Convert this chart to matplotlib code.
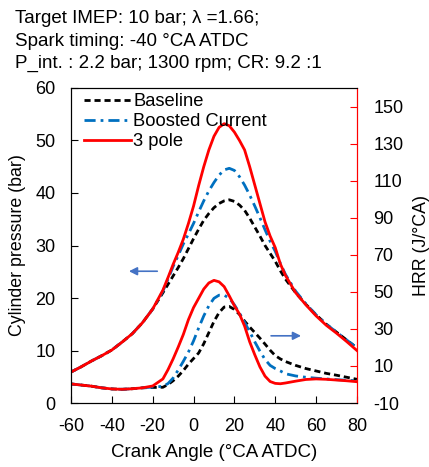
import numpy as np
import matplotlib.pyplot as plt

plt.rcParams['font.family'] = ['Liberation Sans', 'DejaVu Sans']
plt.rcParams['axes.unicode_minus'] = False

# crank angle grid (deg ATDC)
ca = [-60, -55, -50, -45, -40, -35, -30, -25, -20, -15, -12.5, -10, -7.5, -5, -2.5,
      0, 2.5, 5, 7.5, 10, 12.5, 15, 17.5, 20, 22.5, 25, 27.5, 30, 32.5, 35, 37.5,
      40, 42.5, 45, 50, 55, 60, 65, 70, 75, 80]

# cylinder pressure (bar)
p_base = [5.9, 6.9, 8.0, 9.0, 10.1, 11.6, 13.2, 15.3, 17.9, 21.0, 22.6, 24.2, 25.8, 27.5, 29.4,
          31.3, 33.1, 34.8, 36.1, 37.2, 38.0, 38.5, 38.7, 38.4, 37.7, 36.7, 35.2, 33.5, 31.8, 30.0, 28.5,
          27.0, 25.2, 23.6, 21.0, 18.8, 16.8, 15.0, 13.5, 12.0, 10.5]
p_boost = [5.9, 6.9, 8.0, 9.0, 10.1, 11.6, 13.2, 15.3, 17.9, 21.3, 23.6, 26.0, 28.1, 30.3, 32.2,
           34.2, 36.4, 38.5, 40.4, 42.0, 43.4, 44.4, 44.7, 44.3, 43.1, 41.5, 39.6, 37.5, 35.3, 33.0, 30.8,
           28.9, 26.6, 24.5, 21.3, 18.9, 16.8, 15.0, 13.5, 12.0, 10.5]
p_3pole = [5.9, 6.9, 8.0, 9.0, 10.1, 11.6, 13.2, 15.3, 17.9, 21.5, 23.9, 26.4, 28.7, 31.2, 34.2,
           37.5, 41.4, 45.0, 48.2, 50.8, 52.5, 53.2, 52.8, 51.6, 50.0, 48.2, 45.0, 41.5, 38.0, 34.5, 31.8,
           29.6, 26.5, 24.3, 21.0, 18.7, 16.6, 14.8, 13.3, 11.7, 10.0]

# heat release rate (J/°CA)
h_base = [0.3, -0.3, -0.9, -1.8, -2.4, -2.6, -2.3, -1.8, -1.6, -1.5, 0.0, 2.0, 4.5, 7.5, 11.0,
          14.0, 17.0, 22.0, 28.0, 34.0, 38.8, 41.8, 42.1, 40.5, 37.8, 34.2, 31.0, 28.0, 25.0, 21.8, 18.5,
          15.6, 13.8, 12.4, 10.3, 8.6, 7.3, 6.0, 5.0, 3.9, 2.8]
h_boost = [0.3, -0.3, -0.9, -1.8, -2.4, -2.6, -2.3, -1.8, -1.4, -1.0, 0.5, 3.5, 7.8, 12.5, 17.5,
           23.5, 30.5, 37.0, 42.5, 46.5, 48.2, 48.2, 46.5, 43.0, 38.5, 33.5, 28.5, 23.0, 18.0, 13.5, 10.3,
           8.6, 7.3, 5.8, 4.6, 3.9, 3.4, 3.0, 2.6, 2.3, 2.0]
h_3pole = [0.3, -0.3, -0.9, -1.8, -2.4, -2.6, -2.3, -1.8, -0.8, 3.0, 8.0, 13.8, 20.2, 27.0, 35.0,
           41.5, 46.5, 51.5, 54.8, 56.2, 55.4, 52.8, 47.8, 42.5, 38.0, 31.5, 23.0, 16.0, 9.5, 4.5, 1.6,
           0.6, 0.4, 0.8, 1.8, 2.7, 3.0, 2.8, 2.4, 2.0, 1.5]

labels = ['Baseline', 'Boosted Current', '3 pole']
colors = ['black', '#0070C0', '#FF0000']
styles = [(0, (2.2, 1.4)), (0, (4, 1.8, 1, 1.8)), '-']

fig = plt.figure(figsize=(4.29, 4.67), dpi=100)
ax = fig.add_axes([0.1655, 0.137, 0.6665, 0.6746])
ax2 = ax.twinx()

for p, lab, c, ls in zip([p_base, p_boost, p_3pole], labels, colors, styles):
    ax.plot(ca, p, color=c, ls=ls, lw=2, label=lab)
for h, c, ls in zip([h_base, h_boost, h_3pole], colors, styles):
    ax2.plot(ca, h, color=c, ls=ls, lw=2)

ax.set_xlim(-60, 80)
ax.set_ylim(0, 60)
ax.set_xticks(np.arange(-60, 81, 20))
ax.set_yticks(np.arange(0, 61, 10))
ax2.set_ylim(-10, 160)
ax2.set_yticks(np.arange(-10, 151, 20))

ax.tick_params(direction='in', length=5, labelsize=13, pad=11)
ax2.tick_params(direction='in', length=5, labelsize=13, color='red', pad=12)
ax2.spines['right'].set_color('red')
ax.spines['right'].set_color('red')

ax.set_xlabel('Crank Angle (°CA ATDC)', fontsize=13.5, labelpad=6)
ax.set_ylabel('Cylinder pressure (bar)', fontsize=12.8, labelpad=7)
ax2.set_ylabel('HRR (J/°CA)', fontsize=12.8, labelpad=7)

# arrows pointing to the relevant axis
ax.annotate('', xy=(-33, 25.1), xytext=(-16.4, 25.1),
            arrowprops=dict(arrowstyle='-|>', color='#4472C4', lw=1.2, mutation_scale=12))
ax.annotate('', xy=(54, 12.8), xytext=(36.6, 12.8),
            arrowprops=dict(arrowstyle='-|>', color='#4472C4', lw=1.2, mutation_scale=12))

ax.legend(loc='upper left', bbox_to_anchor=(0.0, 1.025), frameon=False, fontsize=13.2,
          handlelength=2.55, handletextpad=0.15, labelspacing=0.17, borderaxespad=0.3)

fig.text(15 / 429, 1 - 23 / 467, 'Target IMEP: 10 bar; λ =1.66;', fontsize=13.5, va='baseline')
fig.text(15 / 429, 1 - 45.5 / 467, 'Spark timing: -40 °CA ATDC', fontsize=13.5, va='baseline')
fig.text(15 / 429, 1 - 68 / 467, 'P_int. : 2.2 bar; 1300 rpm; CR: 9.2 :1', fontsize=13.5, va='baseline')

fig.savefig('out.png', dpi=100)
